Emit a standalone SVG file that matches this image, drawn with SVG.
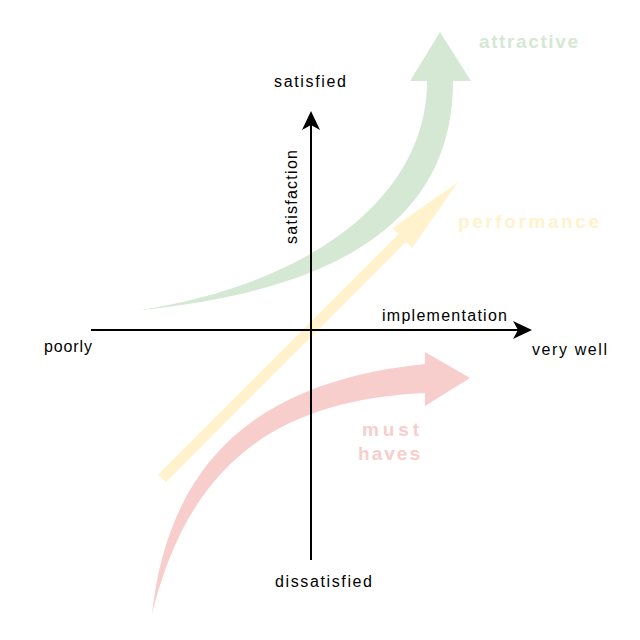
<svg xmlns="http://www.w3.org/2000/svg" width="640" height="640" viewBox="0 0 640 640">
  <style>
    .lbl { font-family: "Liberation Sans", Arial, sans-serif; font-size: 16px; fill: #000000; }
    .big { font-family: "Liberation Sans", Arial, sans-serif; font-size: 19px; font-weight: bold; }
    .axis { stroke: #000000; stroke-width: 2; fill: none; }
  </style>
  <defs>
    <marker id="arr" viewBox="0 0 20 18" refX="17" refY="9" markerWidth="20" markerHeight="18" markerUnits="userSpaceOnUse" orient="auto">
      <path d="M0,0 L19,9 L0,18 L5,9 Z" fill="#000000"/>
    </marker>
  </defs>
  <rect width="640" height="640" fill="#ffffff"/>

  <g id="attractive-arrow">
    <path d="M140,310 C340,290 453,220 453,81 L471,81 L440,32 L410,81 L427,81 C427,200 305,285 140,310 Z" fill="#D5E8D4"/>
  </g>

  <g id="performance-arrow">
    <polygon transform="translate(162,478.3) rotate(-45)" points="0,-5.5 340,-5.5 340,-14 419,0 340,14 340,5.5 0,5.5" fill="#FFF2CC"/>
  </g>

  <g id="musthaves-arrow">
    <path d="M152,614 C170,450 270,380 425,364 L425,352 L470,378 L425,406 L425,393 C280,400 190,460 152,614 Z" fill="#F8CECC"/>
  </g>

  <g id="connectors">
    <line class="axis" x1="91" y1="330" x2="530" y2="330" marker-end="url(#arr)"/>
    <line class="axis" x1="311" y1="560" x2="311" y2="113" marker-end="url(#arr)"/>
  </g>

  <g id="label-satisfied">
    <text class="lbl" x="274" y="87" textLength="72" lengthAdjust="spacing">satisfied</text>
  </g>
  <g id="label-satisfaction">
    <text class="lbl" transform="translate(297,244) rotate(-90)" x="0" y="0" textLength="94" lengthAdjust="spacing">satisfaction</text>
  </g>
  <g id="label-implementation">
    <text class="lbl" x="382" y="321" textLength="125" lengthAdjust="spacing">implementation</text>
  </g>
  <g id="label-verywell">
    <text class="lbl" x="532" y="355" textLength="75" lengthAdjust="spacing">very  well</text>
  </g>
  <g id="label-poorly">
    <text class="lbl" x="44" y="352" textLength="48" lengthAdjust="spacing">poorly</text>
  </g>
  <g id="label-dissatisfied">
    <text class="lbl" x="275" y="587" textLength="97" lengthAdjust="spacing">dissatisfied</text>
  </g>
  <g id="label-attractive">
    <text class="big" x="479" y="48" fill="#D5E8D4" textLength="99" lengthAdjust="spacing">attractive</text>
  </g>
  <g id="label-performance">
    <text class="big" x="458" y="228" fill="#FFF2CC" textLength="141" lengthAdjust="spacing">performance</text>
  </g>
  <g id="label-musthaves">
    <text class="big" x="362" y="436" fill="#F8CECC" textLength="57" lengthAdjust="spacing">must</text>
    <text class="big" x="358" y="460" fill="#F8CECC" textLength="62" lengthAdjust="spacing">haves</text>
  </g>
</svg>
